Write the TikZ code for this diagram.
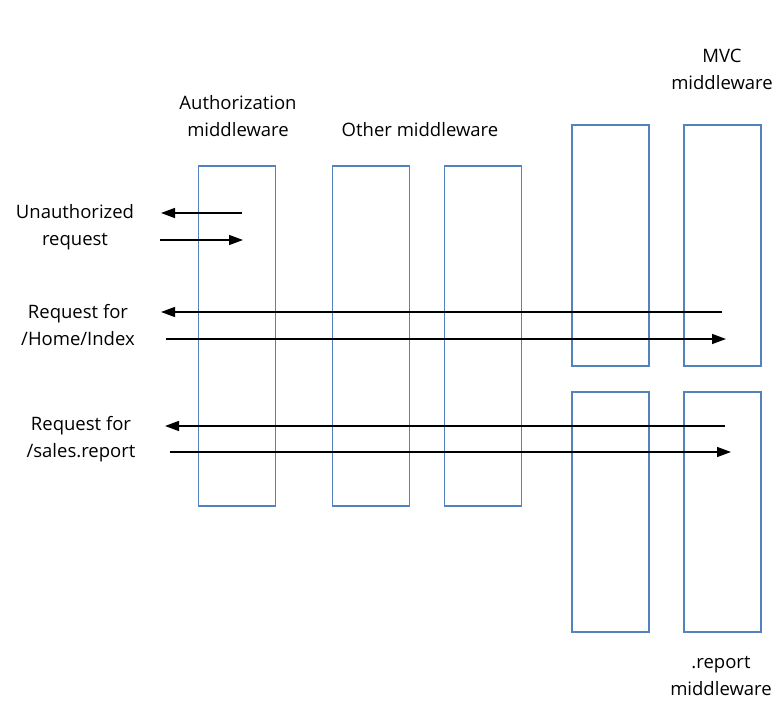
\documentclass[tikz,border=0pt]{standalone}
\usepackage{fontspec}
\setmainfont{Open Sans}
\usetikzlibrary{arrows.meta}
\definecolor{boxblue}{RGB}{84,130,190}
\tikzset{
  mbox/.style={draw=boxblue, line width=1.2pt, minimum width=77pt, inner sep=0pt},
  lbl/.style={font=\fontsize{18.5}{27}\selectfont, text=black, inner sep=0pt, align=center},
  req/.style={-{Triangle[length=14pt,width=10pt]}, line width=1.4pt, black}
}
\begin{document}
\begin{tikzpicture}[x=1pt,y=-1pt]
\useasboundingbox (0,0) rectangle (777,703);
% boxes
\node[mbox, minimum height=340pt] (auth) at (237,336) {};
\node[mbox, minimum height=340pt] (oth1) at (371,336) {};
\node[mbox, minimum height=340pt] (oth2) at (483,336) {};
\node[mbox, minimum height=241pt] (mvc1) at (610.5,245.5) {};
\node[mbox, minimum height=241pt] (mvc2) at (722.5,245.5) {};
\node[mbox, minimum height=240pt] (rep1) at (610.5,512) {};
\node[mbox, minimum height=240pt] (rep2) at (722.5,512) {};
% labels
\node[lbl] (tauth) at (238,116) {Authorization\\middleware};
\node[lbl] (toth) at (420,130) {Other middleware};
\node[lbl] (tmvc) at (722,69) {MVC\\middleware};
\node[lbl] (trep) at (721,676) {.report\\middleware};
\node[lbl] (tunauth) at (75,227) {Unauthorized\\request};
\node[lbl] (thome) at (78,325.5) {Request for\\/Home/Index};
\node[lbl] (tsales) at (81,439) {Request for\\/sales.report};
% arrow endpoints
\coordinate (u1s) at (242,213); \coordinate (u1e) at (161,213);
\coordinate (u2s) at (160,240); \coordinate (u2e) at (243,240);
\coordinate (h1s) at (722,312); \coordinate (h1e) at (161,312);
\coordinate (h2s) at (166,339); \coordinate (h2e) at (726,339);
\coordinate (s1s) at (725,426); \coordinate (s1e) at (165,426);
\coordinate (s2s) at (170,452); \coordinate (s2e) at (731,452);
\draw[req] (u1s) -- (u1e);
\draw[req] (u2s) -- (u2e);
\draw[req] (h1s) -- (h1e);
\draw[req] (h2s) -- (h2e);
\draw[req] (s1s) -- (s1e);
\draw[req] (s2s) -- (s2e);
\end{tikzpicture}
\end{document}
